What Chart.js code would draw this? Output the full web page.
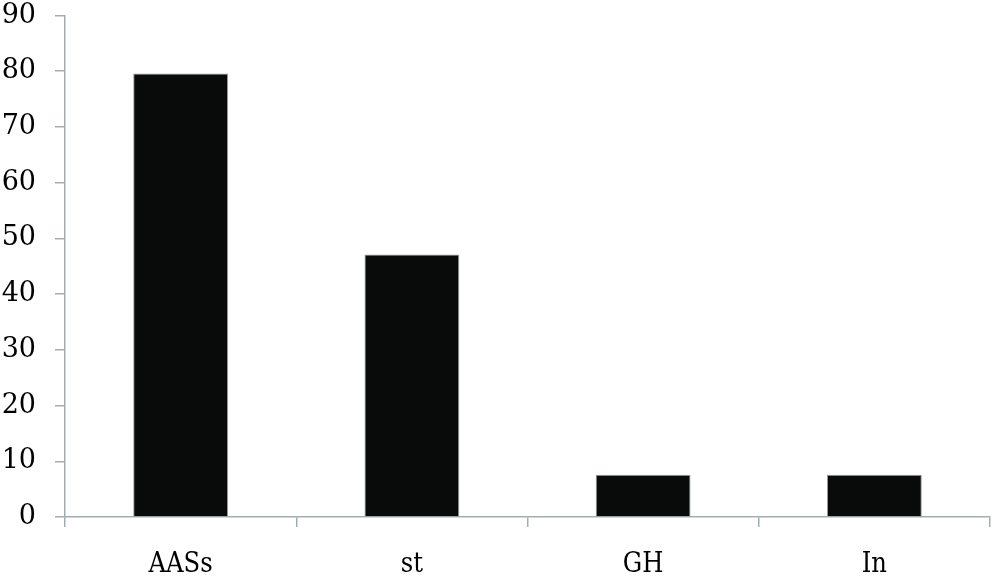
<!DOCTYPE html>
<html>
<head>
<meta charset="utf-8">
<script src="https://cdn.jsdelivr.net/npm/chart.js@4"></script>
<style>
html,body{margin:0;padding:0;background:#fff;}
#wrap{width:1000px;height:583px;position:relative;}
</style>
</head>
<body>
<div id="wrap"><canvas id="c" width="1000" height="583"></canvas></div>
<script>
const categories = ["AASs", "st", "GH", "In"];
const values = [79.6, 47.1, 7.6, 7.6];
const yTicks = [0, 10, 20, 30, 40, 50, 60, 70, 80, 90];

const axisColor = "#a3adb0";

new Chart(document.getElementById("c"), {
  type: "bar",
  data: {
    labels: categories,
    datasets: [{
      data: values,
      backgroundColor: "#080b09",
      borderColor: "#8f9a9a",
      borderWidth: 1,
      barPercentage: 0.41,
      categoryPercentage: 1.0
    }]
  },
  options: {
    responsive: false,
    animation: false,
    devicePixelRatio: 1,
    layout: { padding: { top: 15.5, right: 10, left: 0, bottom: 0 } },
    plugins: { legend: { display: false }, tooltip: { enabled: false } },
    scales: {
      x: {
        grid: { display: true, drawOnChartArea: false, drawTicks: true, tickLength: 10, color: axisColor, lineWidth: 1.5, offset: true },
        border: { display: true, color: axisColor, width: 1.5 },
        ticks: { color: "#000", font: { family: "'DejaVu Serif Condensed', 'DejaVu Serif', serif", size: 27 }, padding: 22 },
        afterFit: (s) => { s.height = 66; s.paddingLeft = 0; s.paddingRight = 0; }
      },
      y: {
        min: 0, max: 90,
        afterBuildTicks: (s) => { s.ticks = yTicks.map(v => ({ value: v })); },
        grid: { display: true, drawOnChartArea: false, drawTicks: true, tickLength: 10, color: axisColor, lineWidth: 1.5 },
        border: { display: true, color: axisColor, width: 1.5 },
        ticks: { color: "#000", font: { family: "'DejaVu Serif', serif", size: 27 }, padding: 19 },
        afterFit: (s) => { s.width = 65; s.paddingTop = 0; s.paddingBottom = 0; }
      }
    }
  }
});
</script>
</body>
</html>
